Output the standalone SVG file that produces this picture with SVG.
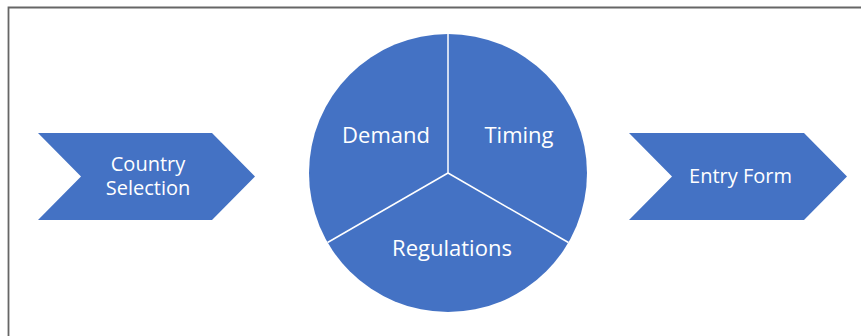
<svg xmlns="http://www.w3.org/2000/svg" width="861" height="336" viewBox="0 0 861 336">
<style>
.shape{fill:#4472C4;}
.div{stroke:#FFFFFF;stroke-width:1.5;fill:none;}
.lbl{font-family:"Open Sans","Noto Sans","Liberation Sans",sans-serif;font-size:20px;fill:#FFFFFF;text-anchor:middle;}
.big{font-size:22px;}
</style>
<rect x="0" y="0" width="861" height="336" fill="#FFFFFF"/>
<path d="M8.5 340 V7.5 H870" fill="none" stroke="#666666" stroke-width="1.8"/>
<g id="country-selection">
<polygon class="shape" points="38,133 212,133 255,176.5 212,220 38,220 81,176.5"/>
<text class="lbl" x="148" y="170.5">Country</text>
<text class="lbl" x="148" y="195">Selection</text>
</g>
<g id="cycle">
<circle class="shape" cx="448" cy="173" r="139"/>
<g id="demand"><text class="lbl big" x="386" y="142.5">Demand</text></g>
<g id="timing"><text class="lbl big" x="519" y="142.5">Timing</text></g>
<g id="regulations"><text class="lbl big" x="452" y="256">Regulations</text></g>
</g>
<g id="connectors">
<line class="div" x1="448" y1="173" x2="448" y2="34"/>
<line class="div" x1="448" y1="173" x2="327.6" y2="242.5"/>
<line class="div" x1="448" y1="173" x2="568.4" y2="242.5"/>
</g>
<g id="entry-form">
<polygon class="shape" points="629,133 804,133 847,176.5 804,220 629,220 672,176.5"/>
<text class="lbl" x="740.5" y="183">Entry Form</text>
</g>
</svg>
